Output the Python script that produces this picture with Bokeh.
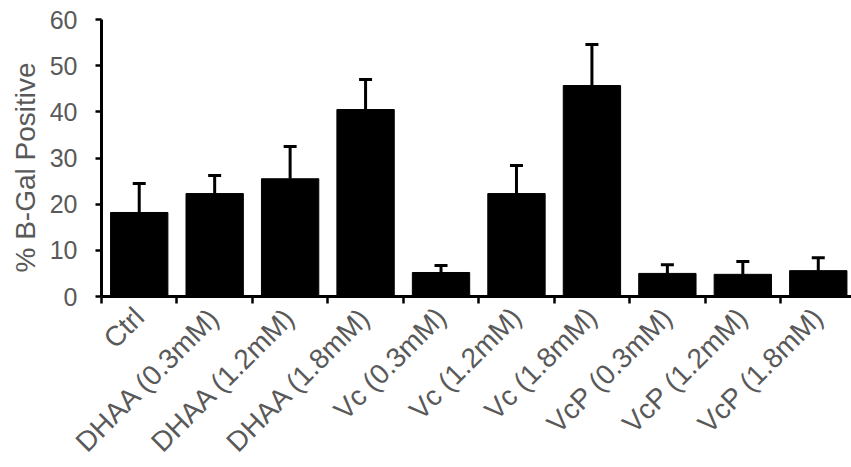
from math import pi
from bokeh.plotting import figure
from bokeh.models import (ColumnDataSource, Range1d, FixedTicker, Whisker, TeeHead, Title)
from bokeh.embed import file_html
from bokeh.resources import INLINE

categories = ["Ctrl", "DHAA (0.3mM)", "DHAA (1.2mM)", "DHAA (1.8mM)",
              "Vc (0.3mM)", "Vc (1.2mM)", "Vc (1.8mM)",
              "VcP (0.3mM)", "VcP (1.2mM)", "VcP (1.8mM)"]
values = [18.2, 22.3, 25.5, 40.5, 5.2, 22.3, 45.7, 5.0, 4.8, 5.6]
err_top = [24.5, 26.2, 32.5, 47.0, 6.7, 28.4, 54.6, 6.9, 7.6, 8.4]
y_ticks = [0, 10, 20, 30, 40, 50, 60]
y_label = "% B-Gal Positive"

FONT = "Liberation Sans"
GREY = "#595959"

n = len(categories)
centers = [i + 0.5 for i in range(n)]
boundaries = list(range(n + 1))

src = ColumnDataSource(dict(x=centers, val=values, err=err_top))

W = 851
LEFT = 101
TOP = 19
frame_w = W - LEFT
cat_px = 75.45
p = figure(width=W, height=467, output_backend="svg", toolbar_location=None,
           x_range=Range1d(0, frame_w / cat_px), y_range=Range1d(0, 60),
           min_border_left=LEFT, min_border_top=TOP, min_border_right=0,
           min_border_bottom=171)
p.frame_width = frame_w
p.frame_height = 277
p.outline_line_color = None
p.grid.visible = False
p.background_fill_color = "white"
p.border_fill_color = "white"

p.vbar(x="x", top="val", width=0.76, bottom=0, source=src,
       fill_color="black", line_color="black", line_width=1)

wh = Whisker(source=src, base="x", upper="err", lower="val",
             upper_head=TeeHead(size=13, line_width=3, line_color="black"),
             lower_head=None, line_width=3, line_color="black")
p.add_layout(wh)

xa = p.xaxis[0]
xa.ticker = FixedTicker(ticks=centers, minor_ticks=boundaries)
xa.major_label_overrides = {c: lab for c, lab in zip(centers, categories)}
xa.major_label_orientation = pi / 4
xa.major_tick_line_color = None
xa.major_tick_out = 6
xa.major_tick_in = 0
xa.minor_tick_out = 7
xa.minor_tick_in = 0
xa.minor_tick_line_width = 2.5
xa.minor_tick_line_color = "black"
xa.axis_line_width = 3
xa.axis_line_color = "black"
xa.major_label_text_font = FONT
xa.major_label_text_font_size = "28px"
xa.major_label_text_color = GREY
xa.major_label_standoff = 9

ya = p.yaxis[0]
ya.ticker = FixedTicker(ticks=y_ticks, minor_ticks=[])
ya.major_tick_out = 6
ya.major_tick_in = 0
ya.major_tick_line_width = 2.5
ya.major_tick_line_color = "black"
ya.axis_line_width = 3
ya.axis_line_color = "black"
ya.major_label_text_font = FONT
ya.major_label_text_font_size = "25px"
ya.major_label_text_color = GREY
ya.major_label_standoff = 18

ttl = Title(text=y_label, align="left", offset=24,
            text_font=FONT, text_font_size="28px", text_font_style="normal",
            text_color=GREY, standoff=12)
p.add_layout(ttl, "left")

open("out.html", "w").write(file_html(p, INLINE))
